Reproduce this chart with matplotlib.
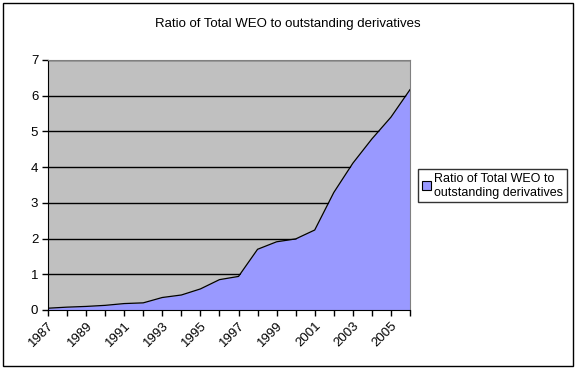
import matplotlib.pyplot as plt
from matplotlib.patches import Rectangle, Patch

plt.rcParams['font.family'] = ['Liberation Sans', 'DejaVu Sans']

years = list(range(1987, 2007))
ratio = [0.05, 0.08, 0.10, 0.13, 0.18, 0.20, 0.35, 0.42, 0.59, 0.85,
         0.94, 1.70, 1.91, 1.99, 2.24, 3.29, 4.11, 4.79, 5.40, 6.17]
tick_labels = [str(y) if (y - 1987) % 2 == 0 else '' for y in years]

fig = plt.figure(figsize=(5.76, 3.69), dpi=100)
ax = fig.add_axes([0.0833, 0.1599, 0.6285, 0.6775])
ax.set_facecolor('#c0c0c0')

ax.fill_between(years, ratio, 0, color='#9999ff', lw=0, zorder=2)
ax.plot(years, ratio, color='black', lw=0.9, zorder=3)

ax.set_xlim(years[0], years[-1])
ax.set_ylim(0, 7)
ax.set_yticks(range(0, 8))
ax.yaxis.grid(True, color='black', lw=1)
ax.set_axisbelow(True)
ax.set_xticks(years)
ax.set_xticklabels(tick_labels, rotation=45, ha='right', rotation_mode='anchor')
ax.tick_params(axis='both', labelsize=9.5, length=4, width=1, direction='out', pad=3)

for s in ['top', 'right']:
    ax.spines[s].set_color('#808080')
for s in ['left', 'bottom']:
    ax.spines[s].set_color('black')

fig.text(0.5, 0.935, 'Ratio of Total WEO to outstanding derivatives',
         ha='center', va='center', fontsize=9.5)

handle = Patch(facecolor='#9999ff', edgecolor='black', lw=0.8)
leg = fig.legend([handle], ['Ratio of Total WEO to\noutstanding derivatives'],
                 loc='center left', bbox_to_anchor=(0.726, 0.497), fontsize=9,
                 frameon=True, fancybox=False, edgecolor='black',
                 handlelength=0.7, handleheight=0.7, handletextpad=0.3,
                 borderpad=0.3, borderaxespad=0, labelspacing=0.1)
leg.get_frame().set_linewidth(1)

fig.patches.append(Rectangle((0.006, 0.008), 0.988, 0.984, transform=fig.transFigure,
                             fill=False, edgecolor='black', lw=1))

fig.savefig('out.png', dpi=100)
